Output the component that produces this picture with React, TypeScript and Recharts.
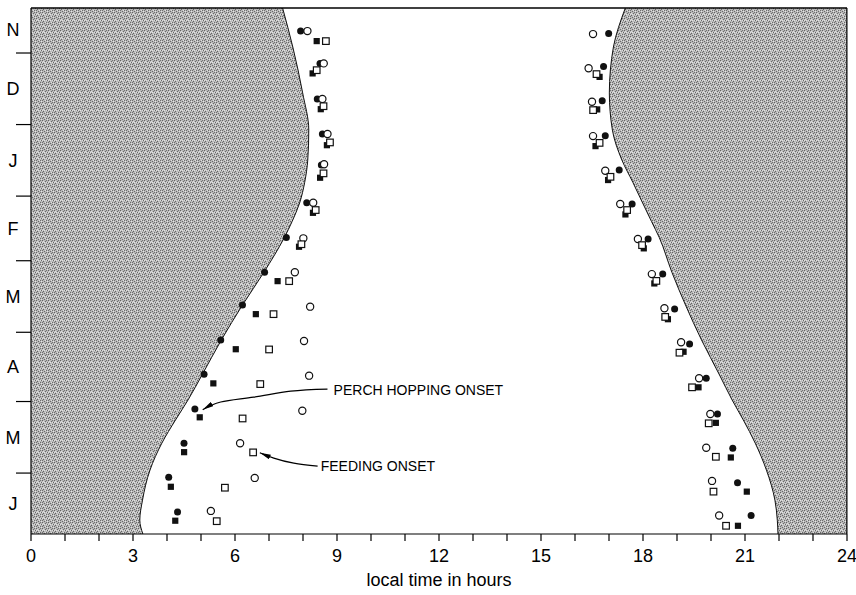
import React from 'react';
import {
  ComposedChart,
  Area,
  Scatter,
  XAxis,
  YAxis,
  ReferenceLine,
  ReferenceDot,
  Label,
} from 'recharts';

const FONT = '"Liberation Sans", Arial, Helvetica, sans-serif';

// y axis: days counted from 1 November
const dayDomain: [number, number] = [10.5, 238.4];
const monthBoundaryDays = [30, 61, 92, 120, 151, 181, 212];
const monthLabelDays = [20, 45.5, 76.5, 106, 135.5, 166, 196.5, 225];
const monthLabels = ['N', 'D', 'J', 'F', 'M', 'A', 'M', 'J'];
const hourTicks = Array.from({ length: 25 }, (_, i) => i);

// sunrise / sunset (night shading boundaries)
const curveDays = [10.5, 27.4, 47.3, 63.4, 76.4, 86, 95, 103, 110, 125, 139.2, 154.3, 169.5, 180.3, 189, 199, 210.7, 223.7, 232.4, 238.4];
const sunrise = [7.4, 7.7, 7.99, 8.17, 8.14, 8.05, 7.9, 7.68, 7.45, 6.85, 6.22, 5.6, 5.03, 4.62, 4.25, 3.85, 3.5, 3.28, 3.2, 3.29];
const sunset = [17.48, 17.13, 17.01, 17.1, 17.38, 17.7, 17.99, 18.25, 18.48, 18.85, 19.25, 19.72, 20.25, 20.62, 20.95, 21.3, 21.63, 21.88, 21.95, 21.97];

// [day, hour]
const onsetFilledCircle = [[20.5,7.93],[34.5,8.5],[49.9,8.42],[65.1,8.57],[78.5,8.54],[94.9,8.11],[109.9,7.51],[125,6.87],[139.2,6.22],[154.3,5.58],[169.2,5.09],[184.2,4.82],[199.1,4.5],[213.8,4.05],[228.9,4.31]];
const onsetOpenCircle = [[20.5,8.13],[34.5,8.61],[49.9,8.57],[65.1,8.72],[78.2,8.62],[94.9,8.3],[110.3,8.01],[125,7.76],[139.9,8.21],[154.8,8.03],[169.8,8.18],[185,7.98],[199.1,6.15],[214.1,6.58],[228.4,5.29]];
const onsetFilledSquare = [[24.8,8.4],[38.8,8.28],[54.3,8.52],[69.9,8.7],[84,8.5],[99.2,8.29],[113.9,7.88],[128.8,7.25],[143.1,6.61],[158.3,6.02],[173.1,5.36],[187.8,4.96],[202.9,4.5],[217.9,4.11],[232.6,4.24]];
const onsetOpenSquare = [[24.8,8.67],[37.4,8.4],[53,8.6],[68.7,8.79],[82.1,8.6],[98,8.37],[112.8,7.95],[128.8,7.59],[143.1,7.13],[158.4,7.0],[173.4,6.74],[188.3,6.22],[203,6.53],[218.3,5.7],[232.8,5.46]];

const offsetOpenCircle = [[21.8,16.53],[36.6,16.4],[51.1,16.5],[66,16.53],[81,16.89],[95.4,17.33],[110.6,17.85],[125.8,18.26],[140.6,18.63],[155.3,19.12],[170.9,19.65],[186.4,19.98],[201,19.86],[215.4,20.03],[230.4,20.24]];
const offsetFilledCircle = [[21.5,16.99],[35.9,16.84],[50.7,16.8],[65.8,16.89],[80.7,17.3],[95.4,17.68],[110.6,18.15],[125.8,18.58],[140.9,18.93],[156.1,19.37],[170.9,19.86],[186.4,20.19],[201.3,20.64],[216.2,20.78],[230.4,21.18]];
const offsetOpenSquare = [[39.1,16.63],[54.7,16.53],[68.9,16.72],[83.6,17.04],[98,17.53],[113.2,17.97],[128.7,18.39],[144.3,18.65],[159.8,19.07],[174.8,19.44],[190.4,19.93],[204.9,20.14],[220,20.07],[234.8,20.44]];
const offsetFilledSquare = [[40.3,16.72],[54.4,16.65],[70.3,16.6],[85,16.97],[99.9,17.48],[114.6,18.02],[129.8,18.33],[145.3,18.73],[159.4,19.19],[174.8,19.63],[190.2,20.14],[205.2,20.58],[220,21.05],[234.8,20.79]];

// annotation arrows, [day, hour], from text to tip
const perchArrow = [[175.6,8.72],[176.5,7.64],[179.1,6.55],[181.2,5.58],[184.6,5.05]];
const feedingArrow = [[209.0,8.43],[207.7,7.73],[205.5,7.14],[203.2,6.73]];
const perchText = { d: 176.0, h: 8.9, text: 'PERCH HOPPING ONSET' };
const feedingText = { d: 208.9, h: 8.52, text: 'FEEDING ONSET' };

const toPts = (arr: number[][]) => arr.map(([d, h]) => ({ d, h }));
const curveData = curveDays.map((d, i) => ({ d, rise: sunrise[i], night: [sunset[i], 24] }));

const FilledCircle = (p: any) => <circle cx={p.cx} cy={p.cy} r={3.5} fill="#111" />;
const OpenCircle = (p: any) => <circle cx={p.cx} cy={p.cy} r={3.6} fill="#fff" stroke="#111" strokeWidth={1.2} />;
const FilledSquare = (p: any) => <rect x={p.cx - 3} y={p.cy - 3} width={6.2} height={6.2} fill="#111" />;
const OpenSquare = (p: any) => <rect x={p.cx - 3.2} y={p.cy - 3.2} width={6.6} height={6.6} fill="#fff" stroke="#111" strokeWidth={1.2} />;
const NoShape = () => <g />;

const MonthTick = (p: any) => {
  const v = p.payload?.value;
  const bi = monthBoundaryDays.indexOf(v);
  if (bi >= 0) {
    return <line x1={p.x - 15} x2={p.x} y1={p.y} y2={p.y} stroke="#000" strokeWidth={1.2} />;
  }
  const li = monthLabelDays.indexOf(v);
  return (
    <text x={p.x - 18} y={p.y} dy="0.36em" textAnchor="middle" fontSize={18} fill="#000" fontFamily={FONT}>
      {li >= 0 ? monthLabels[li] : ''}
    </text>
  );
};

const yTicks = [...monthBoundaryDays, ...monthLabelDays].sort((a, b) => a - b);

export default function App() {
  return (
    <div style={{ position: 'absolute', left: 0, top: 0, width: 856, height: 595, background: '#fff' }}>
      <ComposedChart
        width={856}
        height={595}
        layout="vertical"
        data={curveData}
        margin={{ top: 8, right: 9, bottom: 0, left: 0 }}
      >
        <defs>
          <pattern id="stip" width="6" height="6" patternUnits="userSpaceOnUse">
            <rect width="6" height="6" fill="#b8b8b8" />
            <rect x="0" y="0" width="1" height="1" fill="#626262" />
            <rect x="3" y="1" width="1" height="1" fill="#6a6a6a" />
            <rect x="5" y="2" width="1" height="1" fill="#666" />
            <rect x="1" y="3" width="1" height="1" fill="#646464" />
            <rect x="4" y="4" width="1" height="1" fill="#6c6c6c" />
            <rect x="2" y="5" width="1" height="1" fill="#686868" />
            <rect x="0" y="4" width="1" height="1" fill="#707070" />
            <rect x="4" y="0" width="1" height="1" fill="#747474" />
            <rect x="2" y="2" width="1" height="1" fill="#e4e4e4" />
            <rect x="5" y="5" width="1" height="1" fill="#e4e4e4" />
            <rect x="1" y="1" width="1" height="1" fill="#dedede" />
            <rect x="3" y="4" width="1" height="1" fill="#e0e0e0" />
            <rect x="4" y="2" width="1" height="1" fill="#dcdcdc" />
            <rect x="0" y="2" width="1" height="1" fill="#e2e2e2" />
          </pattern>
          <marker id="ah" viewBox="0 0 11 5" refX="11" refY="2.5" markerWidth="11" markerHeight="5" markerUnits="userSpaceOnUse" orient="auto">
            <path d="M0,0 L11,2.5 L0,5 z" fill="#000" />
          </marker>
        </defs>
        <XAxis
          type="number"
          dataKey="h"
          domain={[0, 24]}
          ticks={hourTicks}
          interval={0}
          allowDataOverflow
          tickFormatter={(v: number) => (v % 3 === 0 ? String(v) : '')}
          tickSize={7}
          tickMargin={8}
          height={61}
          axisLine={{ stroke: '#000', strokeWidth: 1.2 }}
          tickLine={{ stroke: '#000', strokeWidth: 1.2 }}
          tick={{ fill: '#000', fontSize: 18, fontFamily: FONT }}
        >
          <Label value="local time in hours" position="insideBottom" offset={9} style={{ fontSize: 18, fill: '#000', fontFamily: FONT }} />
        </XAxis>
        <YAxis
          type="number"
          dataKey="d"
          domain={dayDomain}
          ticks={yTicks}
          interval={0}
          allowDataOverflow
          tick={<MonthTick />}
          tickLine={false}
          tickSize={0}
          tickMargin={0}
          width={31}
          axisLine={{ stroke: '#000', strokeWidth: 1.2 }}
        />
        <Area
          dataKey="rise"
          type="monotone"
          fill="url(#stip)"
          fillOpacity={1}
          stroke="#111"
          strokeWidth={1}
          isAnimationActive={false}
          dot={false}
          activeDot={false}
        />
        <Area
          dataKey="night"
          type="monotone"
          fill="url(#stip)"
          fillOpacity={1}
          stroke="#111"
          strokeWidth={1}
          isAnimationActive={false}
          dot={false}
          activeDot={false}
        />
        <ReferenceLine y={dayDomain[0]} stroke="#000" strokeWidth={1.5} />
        <ReferenceLine x={24} stroke="#000" strokeWidth={1} />

        <Scatter data={toPts(onsetFilledCircle)} shape={FilledCircle} isAnimationActive={false} />
        <Scatter data={toPts(onsetFilledSquare)} shape={FilledSquare} isAnimationActive={false} />
        <Scatter data={toPts(onsetOpenCircle)} shape={OpenCircle} isAnimationActive={false} />
        <Scatter data={toPts(onsetOpenSquare)} shape={OpenSquare} isAnimationActive={false} />
        <Scatter data={toPts(offsetFilledCircle)} shape={FilledCircle} isAnimationActive={false} />
        <Scatter data={toPts(offsetFilledSquare)} shape={FilledSquare} isAnimationActive={false} />
        <Scatter data={toPts(offsetOpenCircle)} shape={OpenCircle} isAnimationActive={false} />
        <Scatter data={toPts(offsetOpenSquare)} shape={OpenSquare} isAnimationActive={false} />

        <Scatter
          data={toPts(perchArrow)}
          shape={NoShape}
          line={{ stroke: '#000', strokeWidth: 1.2, markerEnd: 'url(#ah)' } as any}
          lineType="joint"
          lineJointType="natural"
          isAnimationActive={false}
        />
        <Scatter
          data={toPts(feedingArrow)}
          shape={NoShape}
          line={{ stroke: '#000', strokeWidth: 1.2, markerEnd: 'url(#ah)' } as any}
          lineType="joint"
          lineJointType="natural"
          isAnimationActive={false}
        />
        <ReferenceDot
          x={perchText.h}
          y={perchText.d}
          r={0}
          fill="none"
          stroke="none"
          label={{ value: perchText.text, position: 'right', offset: 0, fontSize: 14, fill: '#000', fontFamily: FONT }}
        />
        <ReferenceDot
          x={feedingText.h}
          y={feedingText.d}
          r={0}
          fill="none"
          stroke="none"
          label={{ value: feedingText.text, position: 'right', offset: 0, fontSize: 14, fill: '#000', fontFamily: FONT }}
        />
      </ComposedChart>
    </div>
  );
}
